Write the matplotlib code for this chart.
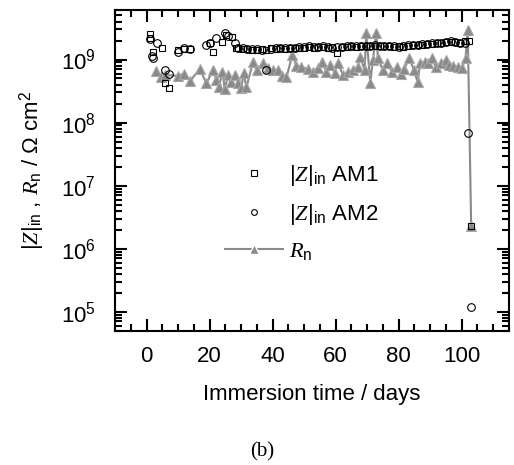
import matplotlib
matplotlib.use('Agg')
import matplotlib.pyplot as plt
from matplotlib.ticker import LogLocator, MultipleLocator, NullFormatter
from matplotlib.legend_handler import HandlerLine2D

plt.rcParams['font.family'] = ['Liberation Sans', 'DejaVu Sans']
plt.rcParams['mathtext.fontset'] = 'custom'
plt.rcParams['mathtext.rm'] = 'Liberation Sans'
plt.rcParams['mathtext.it'] = 'Liberation Serif:italic'
plt.rcParams['mathtext.bf'] = 'Liberation Sans:bold'

# |Z| AM1 (squares)
am1_days = [1.0, 1.1, 2.1, 4.9, 6.0, 7.1, 10, 11.9, 13.9, 20.1, 21.1, 23.8, 25.3, 27, 28.5,
            29, 30.5, 32, 33.5, 35, 36.5, 38, 39.5, 41, 42.5, 44, 45.5, 47, 48.5, 50, 51.5,
            53, 54.5, 56, 57.5, 59, 60.5, 62, 63.5, 65, 66.5, 68, 69.5, 71, 72.5, 74, 75.5,
            77, 78.5, 80, 81.5, 83, 84.5, 86, 87.5, 89, 90.5, 92, 93.5, 95, 96.5, 98, 99.5,
            101, 102.2, 103]
am1_vals = [2.5e9, 2.2e9, 1.33e9, 1.5e9, 4.2e8, 3.5e8, 1.4e9, 1.47e9, 1.47e9, 1.8e9, 1.3e9,
            1.9e9, 2.45e9, 2.3e9, 1.5e9,
            1.5e9, 1.45e9, 1.45e9, 1.42e9, 1.4e9, 1.45e9, 1.42e9, 1.5e9, 1.45e9, 1.5e9,
            1.48e9, 1.5e9, 1.52e9, 1.55e9, 1.55e9, 1.6e9, 1.55e9, 1.58e9, 1.6e9, 1.55e9,
            1.58e9, 1.28e9, 1.58e9, 1.6e9, 1.62e9, 1.6e9, 1.62e9, 1.65e9, 1.62e9, 1.65e9,
            1.65e9, 1.62e9, 1.65e9, 1.6e9, 1.62e9, 1.6e9, 1.65e9, 1.68e9, 1.7e9, 1.72e9,
            1.75e9, 1.78e9, 1.8e9, 1.85e9, 1.88e9, 1.9e9, 1.92e9, 1.85e9, 1.95e9,
            2.0e9, 2.3e6]

# |Z| AM2 (circles)
am2_days = [1.05, 1.9, 2.0, 3.2, 6.0, 7.1, 10, 11.9, 13.9, 19, 20.1, 22, 24.8, 25.9, 28,
            29, 30.5, 32, 33.5, 35, 36.5, 38, 39.5, 41, 42.5, 44, 45.5, 47, 48.5, 50, 51.5,
            53, 54.5, 56, 57.5, 59, 60.5, 62, 63.5, 65, 66.5, 68, 69.5, 71, 72.5, 74, 75.5,
            77, 78.5, 80, 81.5, 83, 84.5, 86, 87.5, 89, 90.5, 92, 93.5, 95, 96.5, 98, 99.5,
            101, 102, 103]
am2_vals = [2.1e9, 1.14e9, 1.05e9, 1.8e9, 6.8e8, 5.9e8, 1.33e9, 1.54e9, 1.47e9, 1.7e9,
            1.85e9, 2.2e9, 2.6e9, 2.36e9, 1.8e9,
            1.55e9, 1.5e9, 1.48e9, 1.45e9, 1.45e9, 1.4e9, 6.8e8, 1.45e9, 1.5e9, 1.52e9,
            1.5e9, 1.55e9, 1.55e9, 1.6e9, 1.58e9, 1.62e9, 1.6e9, 1.6e9, 1.62e9, 1.6e9,
            1.55e9, 1.6e9, 1.6e9, 1.62e9, 1.65e9, 1.65e9, 1.65e9, 1.62e9, 1.65e9, 1.68e9,
            1.65e9, 1.65e9, 1.62e9, 1.62e9, 1.6e9, 1.62e9, 1.68e9, 1.7e9, 1.72e9, 1.75e9,
            1.78e9, 1.8e9, 1.82e9, 1.85e9, 1.9e9, 1.95e9, 1.9e9, 1.8e9, 1.85e9,
            6.9e7, 1.2e5]

# Rn (triangles + line)
rn_days = [2.9, 4.75, 5.8, 10, 11.9, 13.9, 16.9, 19, 21.1, 22.2, 22.9, 24.1, 24.8, 25.9,
           26.9, 28, 29, 30.1, 30.8, 31.7, 33.8, 34.9, 36.9, 38.5, 40.1, 41.7, 43.1, 44.4,
           46.3, 47.5, 49.1, 51.2, 52.8, 54.4, 55.8, 57, 58.1, 59.7, 60.7, 62.3, 63.9, 65.4,
           67, 67.8, 69.2, 69.7, 71, 71.8, 72.9, 73.4, 75, 76.2, 77.9, 79.5, 80.8, 81.8,
           83.4, 84.8, 86, 86.8, 88.2, 89.2, 90.6, 91.7, 93.5, 95.1, 96.1, 97.2, 98.7,
           100.1, 101.2, 101.9, 103]
rn_vals = [6.6e8, 5.3e8, 5.7e8, 5.5e8, 6.0e8, 4.6e8, 7.1e8, 4.2e8, 6.8e8, 4.7e8, 3.6e8,
           6.4e8, 3.4e8, 5.7e8, 4.4e8, 5.7e8, 4.2e8, 3.5e8, 6.2e8, 3.6e8, 9.3e8, 6.8e8,
           8.7e8, 7.3e8, 6.8e8, 6.8e8, 5.4e8, 5.2e8, 1.2e9, 8.0e8, 7.7e8, 7.0e8, 6.4e8,
           7.3e8, 9.2e8, 6.4e8, 8.2e8, 6.2e8, 8.9e8, 5.7e8, 6.4e8, 6.8e8, 7.7e8, 1.1e9,
           6.8e8, 2.6e9, 4.3e8, 9.8e8, 2.6e9, 1.04e9, 6.8e8, 8.7e8, 6.4e8, 7.7e8, 6.0e8,
           7.2e8, 1.05e9, 6.8e8, 4.4e8, 8.7e8, 9.2e8, 8.7e8, 1.04e9, 7.7e8, 8.7e8, 1.0e9,
           8.2e8, 7.9e8, 7.7e8, 7.3e8, 1.04e9, 2.9e9, 2.3e6]

fig = plt.figure(figsize=(5.14, 4.65), dpi=100)
ax = fig.add_axes([0.2237, 0.2888, 0.7666, 0.6897])

gray = '#8a8a8a'
ax.plot(rn_days, rn_vals, '-^', color=gray, lw=1.5, ms=6.5, mfc=gray, mec='#a8a8a8',
        mew=0.8, label=r'$R_\mathrm{n}$')
ax.plot(am1_days, am1_vals, 's', ms=5, mfc='none', mec='black', mew=0.8,
        label=r'$|Z|_\mathrm{in}$ AM1')
ax.plot(am2_days, am2_vals, 'o', ms=5.5, mfc='none', mec='black', mew=0.8,
        label=r'$|Z|_\mathrm{in}$ AM2')

ax.set_yscale('log')
ax.set_xlim(-10, 115)
ax.set_ylim(5e4, 6.1e9)
ax.xaxis.set_major_locator(MultipleLocator(20))
ax.xaxis.set_minor_locator(MultipleLocator(5))
ax.yaxis.set_major_locator(LogLocator(base=10, numticks=20))
ax.yaxis.set_minor_locator(LogLocator(base=10, subs=range(2, 10), numticks=20))
ax.yaxis.set_minor_formatter(NullFormatter())
ax.set_xticks([0, 20, 40, 60, 80, 100])

ax.tick_params(which='both', direction='in', top=True, right=True, width=1.5,
               labelsize=16)
ax.tick_params(which='major', length=8.5)
ax.tick_params(which='minor', length=5)
ax.tick_params(axis='x', which='major', pad=11)
ax.tick_params(axis='y', which='major', pad=14)
for s in ax.spines.values():
    s.set_linewidth(1.5)

ax.set_xlabel('Immersion time / days', fontsize=16, labelpad=12)
ax.set_ylabel(r'$|Z|_\mathrm{in}$ , $R_\mathrm{n}$ / $\Omega$ cm$^2$', fontsize=16,
              labelpad=10)


def white_edge(handle, orig):
    handle.update_from(orig)
    handle.set_markersize(10)
    handle.set_markeredgecolor('white')
    handle.set_markeredgewidth(1.0)


h, l = ax.get_legend_handles_labels()
leg = ax.legend([h[1], h[2], h[0]], [l[1], l[2], l[0]], loc='upper left',
                bbox_to_anchor=(225 / 514, 1 - 163 / 465),
                bbox_transform=fig.transFigure, frameon=False, fontsize=16,
                borderpad=0, borderaxespad=0, handlelength=2.6, handletextpad=0.3,
                labelspacing=0.63, markerscale=0.75,
                handler_map={h[0]: HandlerLine2D(update_func=white_edge)})

fig.text(261.7 / 514, 1 - 452 / 465, '(b)', ha='center', va='center',
         fontsize=15, family='Liberation Serif')

fig.savefig('out.png', dpi=100)
